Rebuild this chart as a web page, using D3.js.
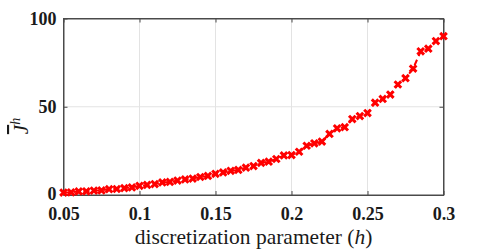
<!DOCTYPE html>
<html>
<head>
<meta charset="utf-8">
<script src="https://cdn.jsdelivr.net/npm/d3@7"></script>
<style>
body { margin: 0; background: #fff; }
</style>
</head>
<body>
<script>
// h values and the cost Jbar^h
let hVals = d3.range(0, 51).map((i) => +(0.05 + i * 0.005).toFixed(3));
let jVals = [1.4, 1.5, 2.0, 2.1, 2.5, 2.6, 3.3, 3.4, 3.9, 4.3,
             5.2, 5.7, 6.2, 7.1, 7.4, 8.2, 8.8, 9.3, 10.2, 10.8,
             12.0, 12.8, 13.7, 14.2, 15.5, 16.4, 18.2, 18.9, 20.4, 22.4,
             22.6, 24.5, 27.9, 29.3, 30.3, 34.6, 37.8, 38.4, 43.0, 44.7,
             46.4, 52.3, 54.4, 56.9, 62.6, 66.2, 71.6, 81.4, 82.9, 87.2, 90.0];
let xTicks = [0.05, 0.1, 0.15, 0.2, 0.25, 0.3];
let yTicks = [0, 50, 100];

let w = 490, h = 251;
let padL = 63.5, padR = 443.5, padT = 18.5, padB = 195;
let serif = "'Liberation Serif'";
let axisCol = "#4a4a4a";

let data = hVals.map((d, i) => [d, jVals[i]]);

let xScale = d3.scaleLinear().domain([0.05, 0.3]).range([padL, padR]);
let yScale = d3.scaleLinear().domain([0, 100]).range([padB, padT]);

let svg = d3.select("body").append("svg")
  .attr("width", w).attr("height", h);

// grid
svg.append("g").selectAll("line")
  .data(xTicks.slice(1, -1)).enter().append("line")
  .attr("x1", (d) => xScale(d)).attr("x2", (d) => xScale(d))
  .attr("y1", padT).attr("y2", padB)
  .attr("stroke", "#e3e3e3").attr("stroke-width", 1);
svg.append("g").selectAll("line")
  .data(yTicks.slice(1, -1)).enter().append("line")
  .attr("x1", padL).attr("x2", padR)
  .attr("y1", (d) => yScale(d)).attr("y2", (d) => yScale(d))
  .attr("stroke", "#e3e3e3").attr("stroke-width", 1);

// axes (ticks inside, MATLAB style)
let xAxis = d3.axisBottom(xScale).tickValues(xTicks)
  .tickFormat(d3.format("")).tickSizeInner(-4).tickSizeOuter(0).tickPadding(12);
let yAxis = d3.axisLeft(yScale).tickValues(yTicks)
  .tickSizeInner(-4).tickSizeOuter(0).tickPadding(7);

svg.append("g")
  .attr("transform", "translate(0," + padB + ")")
  .call(xAxis);
let gy = svg.append("g")
  .attr("transform", "translate(" + padL + ",0)")
  .call(yAxis);
// nudge the "0" up a touch so it clears 0.05
gy.selectAll(".tick text").filter((d) => d === 0).attr("y", -1.5);

// top/right ticks
svg.append("g").attr("transform", "translate(0," + padT + ")")
  .call(d3.axisTop(xScale).tickValues(xTicks).tickSizeInner(-4).tickSizeOuter(0).tickFormat(""));
svg.append("g").attr("transform", "translate(" + padR + ",0)")
  .call(d3.axisRight(yScale).tickValues(yTicks).tickSizeInner(-4).tickSizeOuter(0).tickFormat(""));

svg.selectAll(".domain, .tick line").attr("stroke", axisCol);
svg.selectAll(".tick text")
  .style("font-family", serif)
  .attr("font-size", 18).attr("font-weight", "bold").attr("fill", "#1a1a1a");

// box
svg.append("rect")
  .attr("x", padL).attr("y", padT)
  .attr("width", padR - padL).attr("height", padB - padT)
  .attr("fill", "none").attr("stroke", axisCol).attr("stroke-width", 1);

// dashed line
let line = d3.line().x((d) => xScale(d[0])).y((d) => yScale(d[1]));
svg.append("path").datum(data)
  .attr("d", line)
  .attr("fill", "none").attr("stroke", "#ff0000")
  .attr("stroke-width", 2).attr("stroke-dasharray", "6,4");

// x markers
let m = 3.3;
let marks = svg.append("g").selectAll("g")
  .data(data).enter().append("g")
  .attr("transform", (d) => "translate(" + xScale(d[0]) + "," + yScale(d[1]) + ")");
marks.append("path")
  .attr("d", "M" + -m + "," + -m + "L" + m + "," + m + "M" + -m + "," + m + "L" + m + "," + -m)
  .attr("stroke", "#ff0000").attr("stroke-width", 3).attr("fill", "none");

// labels
let xl = svg.append("text")
  .attr("x", (padL + padR) / 2).attr("y", 243.5)
  .attr("text-anchor", "middle")
  .style("font-family", serif)
  .attr("font-size", 21.5).attr("fill", "#1a1a1a");
xl.append("tspan").text("discretization parameter (");
xl.append("tspan").attr("font-style", "italic").text("h");
xl.append("tspan").text(")");

let yl = svg.append("text")
  .attr("transform", "translate(28,126) rotate(-90)")
  .attr("text-anchor", "middle")
  .style("font-family", serif)
  .attr("font-size", 21).attr("fill", "#1a1a1a");
yl.append("tspan").attr("font-style", "italic").attr("text-decoration", "overline").text("J");
yl.append("tspan").attr("font-style", "italic").attr("font-size", 14).attr("dy", -8).text("h");
</script>
</body>
</html>
